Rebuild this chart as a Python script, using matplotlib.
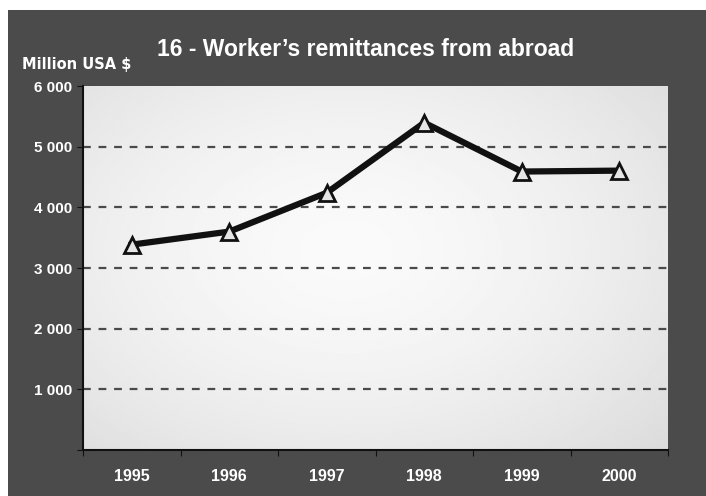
import matplotlib.pyplot as plt
import numpy as np
from matplotlib.patches import Rectangle

years = ['1995', '1996', '1997', '1998', '1999', '2000']
remittances = [3385, 3600, 4240, 5395, 4590, 4605]
yticks = [0, 1000, 2000, 3000, 4000, 5000, 6000]
ylabels = ['', '1 000', '2 000', '3 000', '4 000', '5 000', '6 000']

plt.rcParams['font.family'] = ['Liberation Sans', 'DejaVu Sans']

fig = plt.figure(figsize=(7.06, 4.96), dpi=100)
fig.patch.set_facecolor('white')
# dark frame, slightly offset from the top-left corner
fig.patches.append(Rectangle((8 / 706, 0), 1, 1 - 10 / 496, transform=fig.transFigure,
                             facecolor='#4b4b4b', edgecolor='none', zorder=-10))

ax = fig.add_axes([83 / 706, 46 / 496, 585 / 706, 364 / 496])
x = np.arange(len(years))

# soft radial gradient inside the plot area
gx, gy = np.meshgrid(np.linspace(0, 1, 300), np.linspace(0, 1, 200))
r = np.sqrt(((gx - 0.45) / 0.75) ** 2 + ((gy - 0.45) / 0.8) ** 2)
shade = np.clip(0.98 - 0.12 * r ** 1.6, 0.8, 0.98)
ax.imshow(shade, cmap='gray', vmin=0, vmax=1, extent=[0, 1, 0, 1],
          transform=ax.transAxes, aspect='auto', zorder=0, interpolation='bilinear')

for t in yticks[1:6]:
    ax.axhline(t, color='#4a4a4a', lw=1.6, dashes=(3.5, 3.5), zorder=1)

ax.plot(x, remittances, color='#111111', lw=4.5, zorder=3, solid_joinstyle='round')
ax.plot(x, remittances, linestyle='none', marker='^', ms=11, mfc='#e6e6e6',
        mec='#111111', mew=2, zorder=4)

ax.set_xlim(-0.5, len(years) - 0.5)
ax.set_ylim(0, 6000)
ax.set_yticks(yticks)
ax.set_yticklabels(ylabels)
ax.set_xticks(np.arange(-0.5, len(years), 1))
ax.set_xticklabels([])
ax.set_xticks(x, minor=True)
ax.set_xticklabels(years, minor=True)
ax.tick_params(axis='x', which='minor', length=0, pad=14, colors='white', labelsize=11.5)
ax.tick_params(axis='x', which='major', length=4, color='#111111', direction='out')
ax.tick_params(axis='y', length=4, color='#111111', colors='white', labelsize=11, pad=4)
for lab in ax.get_xticklabels(minor=True) + ax.get_yticklabels():
    lab.set_fontweight('bold')
    lab.set_color('white')

ax.spines['top'].set_visible(False)
ax.spines['right'].set_visible(False)
ax.spines['left'].set_color('#111111')
ax.spines['bottom'].set_color('#111111')
ax.spines['left'].set_linewidth(1.5)
ax.spines['bottom'].set_linewidth(1.5)

fig.text(366 / 706, 1 - 50 / 496, "16 - Worker\u2019s remittances from abroad", color='white',
         fontsize=16.5, fontweight='bold', ha='center', va='center')
fig.text(22 / 706, 1 - 64 / 496, 'Million USA $', color='white', fontsize=10.5,
         fontweight='bold', ha='left', va='center', family='DejaVu Sans')

fig.savefig('out.png', dpi=100, facecolor=fig.get_facecolor())
